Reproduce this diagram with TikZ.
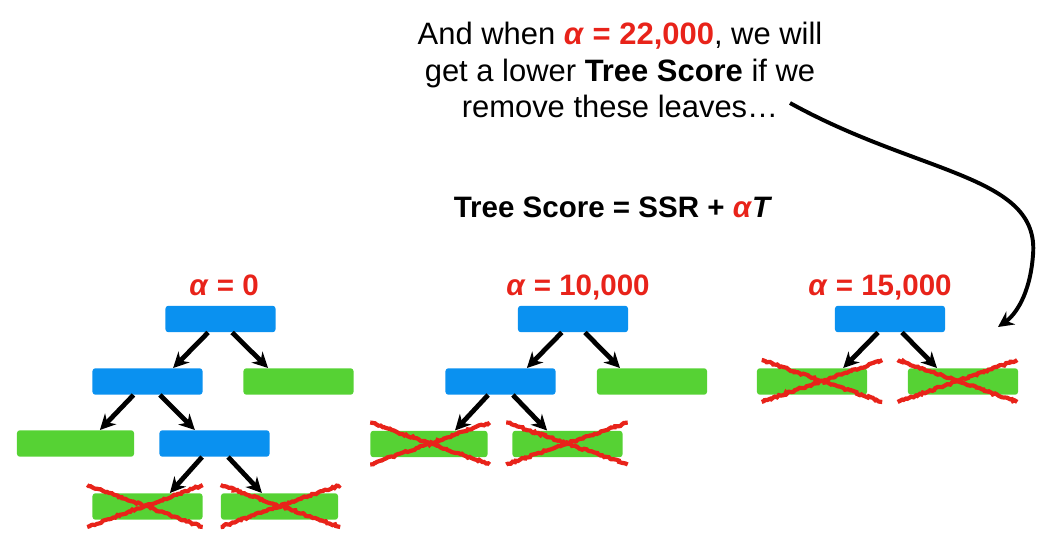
\documentclass[tikz,border=0pt]{standalone}
\usepackage{fontspec}
\setmainfont{Liberation Sans}
\usetikzlibrary{arrows.meta,calc,decorations.pathmorphing}
\definecolor{nodeblue}{RGB}{10,145,240}
\definecolor{leafgreen}{RGB}{86,210,52}
\definecolor{alphared}{RGB}{232,35,26}
\newcommand{\alp}{\textit{α}}
\newcommand{\crossleaf}[3]{%
  \draw[cut] ($(#1.north west)+({-1*(#2)},-8)$) -- ($(#1.south east)+(#3,7)$);
  \draw[cut] ($(#1.south west)+({-1*(#2)},7)$) -- ($(#1.north east)+(#3,-8)$);}

\begin{document}
\begin{tikzpicture}[x=0.025cm,y=-0.025cm,
    splitbox/.style={fill=nodeblue,rounded corners=2pt,minimum width=2.75cm,minimum height=0.66cm,inner sep=0pt},
    leafbox/.style={fill=leafgreen,rounded corners=2pt,minimum width=2.75cm,minimum height=0.66cm,inner sep=0pt},
    wide/.style={minimum width=2.925cm},
    branch/.style={-{Stealth[length=11pt,width=11pt]},line width=3.4pt},
    cut/.style={draw=alphared,line width=3pt,decorate,decoration={random steps,segment length=1.5pt,amplitude=0.7pt}},
    alphalabel/.style={text=alphared,font=\bfseries\fontsize{21}{25}\selectfont,anchor=base}]
    \useasboundingbox (0,0) rectangle (1055,545);

    \node[align=center,font=\fontsize{22}{26}\selectfont] (note) at (620,70)
        {And when \textcolor{alphared}{\textbf{\alp{} = 22,000}}, we will\\
         get a lower \textbf{Tree Score} if we\\
         remove these leaves…};
    \node[font=\bfseries\fontsize{21}{25}\selectfont,anchor=base] (score) at (613,217)
        {Tree Score = SSR + \textcolor{alphared}{\alp}\textit{T}};

    % alpha = 0
    \node[alphalabel] (a1) at (224,295) {\alp{} = 0};
    \node[splitbox] (r1) at (220.5,319) {};
    \node[splitbox] (b1) at (147.5,381.5) {};
    \node[leafbox] (g1) at (298.5,381.5) {};
    \node[leafbox,wide] (g2) at (75.5,443.5) {};
    \node[splitbox] (b2) at (214.5,443.5) {};
    \node[leafbox] (x1) at (147.5,506.5) {};
    \node[leafbox,wide] (x2) at (279.5,506.5) {};
    \draw[branch] ([xshift=-0.31cm]r1.south) -- ([xshift=0.64cm]b1.north);
    \draw[branch] ([xshift=0.29cm]r1.south) -- ([xshift=-0.76cm]g1.north);
    \draw[branch] ([xshift=-0.35cm]b1.south) -- ([xshift=0.61cm]g2.north);
    \draw[branch] ([xshift=0.31cm]b1.south) -- ([xshift=-0.49cm]b2.north);
    \draw[branch] ([xshift=-0.31cm]b2.south) -- ([xshift=0.56cm]x1.north);
    \draw[branch] ([xshift=0.34cm]b2.south) -- ([xshift=-0.44cm]x2.north);
    \crossleaf{x1}{5}{0}
    \crossleaf{x2}{0}{2}

    % alpha = 10,000
    \node[alphalabel] (a2) at (578,295) {\alp{} = 10,000};
    \node[splitbox] (r2) at (573,319) {};
    \node[splitbox] (b3) at (500.5,381.5) {};
    \node[leafbox] (g3) at (652,381.5) {};
    \node[leafbox,wide] (x3) at (429,444) {};
    \node[leafbox] (x4) at (567.5,444) {};
    \draw[branch] ([xshift=-0.28cm]r2.south) -- ([xshift=0.66cm]b3.north);
    \draw[branch] ([xshift=0.3cm]r2.south) -- ([xshift=-0.8cm]g3.north);
    \draw[branch] ([xshift=-0.31cm]b3.south) -- ([xshift=0.65cm]x3.north);
    \draw[branch] ([xshift=0.31cm]b3.south) -- ([xshift=-0.51cm]x4.north);
    \crossleaf{x3}{0}{2}
    \crossleaf{x4}{6}{5}

    % alpha = 15,000
    \node[alphalabel] (a3) at (880,295) {\alp{} = 15,000};
    \node[splitbox] (r3) at (890,319) {};
    \node[leafbox] (x5) at (812,381.5) {};
    \node[leafbox] (x6) at (963,381.5) {};
    \draw[branch] ([xshift=-0.3cm]r3.south) -- ([xshift=0.78cm]x5.north);
    \draw[branch] ([xshift=0.3cm]r3.south) -- ([xshift=-0.65cm]x6.north);
    \crossleaf{x5}{-5}{15}
    \crossleaf{x6}{10}{-1}

    \coordinate (start) at (790,103);
    \coordinate (tip) at (998,327);
    \draw[branch,line width=2.8pt] (start) .. controls (920,175) and (1040,175) .. (1033,255)
        .. controls (1030,295) and (1015,315) .. (tip);
\end{tikzpicture}
\end{document}
